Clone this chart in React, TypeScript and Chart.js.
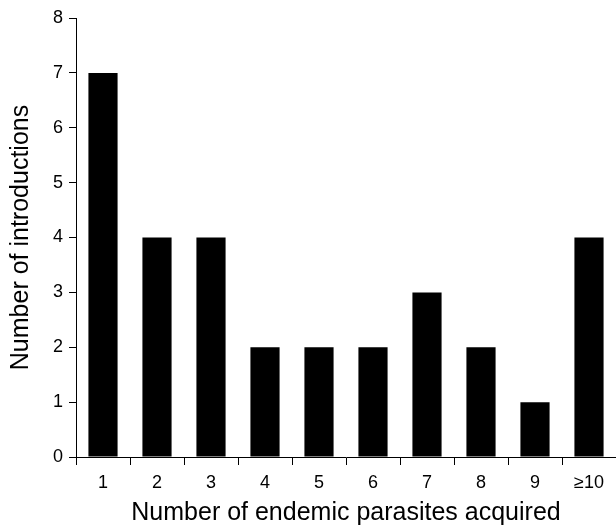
import React, { useEffect, useRef } from "react";
import { Chart, registerables } from "chart.js";

Chart.register(...registerables);

const categories = ["1", "2", "3", "4", "5", "6", "7", "8", "9", "≥10"];
const introductions = [7, 4, 4, 2, 2, 2, 3, 2, 1, 4];
const yTicks = [0, 1, 2, 3, 4, 5, 6, 7, 8];

const FONT = "'Liberation Sans', Arial, Helvetica, sans-serif";

export default function App() {
  const ref = useRef<HTMLCanvasElement | null>(null);

  useEffect(() => {
    document.body.style.margin = "0";
    const canvas = ref.current;
    if (!canvas) return;
    const chart = new Chart(canvas, {
      type: "bar",
      data: {
        labels: categories,
        datasets: [
          {
            data: introductions,
            backgroundColor: "#000000",
            borderWidth: 0,
            barPercentage: 0.54,
            categoryPercentage: 1,
          },
        ],
      },
      options: {
        animation: false,
        responsive: false,
        maintainAspectRatio: false,
        layout: { padding: { top: 18, right: 0, left: 0, bottom: 0 } },
        plugins: {
          legend: { display: false },
          tooltip: { enabled: false },
        },
        scales: {
          x: {
            grid: {
              display: true,
              drawOnChartArea: false,
              drawTicks: true,
              tickLength: 8,
              color: "#000",
              offset: true,
            },
            border: { display: true, color: "#000", width: 1 },
            ticks: {
              color: "#000",
              font: { family: FONT, size: 18 },
              padding: 7,
              maxRotation: 0,
            },
            title: {
              display: true,
              text: "Number of endemic parasites acquired",
              color: "#000",
              font: { family: FONT, size: 25 },
              padding: { top: 2, bottom: 0 },
            },
            afterFit: (scale: any) => {
              scale.height = 71;
            },
          },
          y: {
            min: 0,
            max: 8,
            afterBuildTicks: (scale: any) => {
              scale.ticks = yTicks.map((v) => ({ value: v }));
            },
            grid: {
              display: true,
              drawOnChartArea: false,
              drawTicks: true,
              tickLength: 7,
              color: "#000",
            },
            border: { display: true, color: "#000", width: 1 },
            ticks: {
              color: "#000",
              font: { family: FONT, size: 18 },
              padding: 6,
            },
            title: {
              display: true,
              text: "Number of introductions",
              color: "#000",
              font: { family: FONT, size: 25 },
              padding: { top: 6, bottom: 0 },
            },
            afterFit: (scale: any) => {
              scale.width = 76;
            },
          },
        },
      },
    });
    return () => chart.destroy();
  }, []);

  return (
    <div style={{ width: 616, height: 528 }}>
      <canvas ref={ref} width={616} height={528} style={{ width: 616, height: 528, display: "block" }} />
    </div>
  );
}
